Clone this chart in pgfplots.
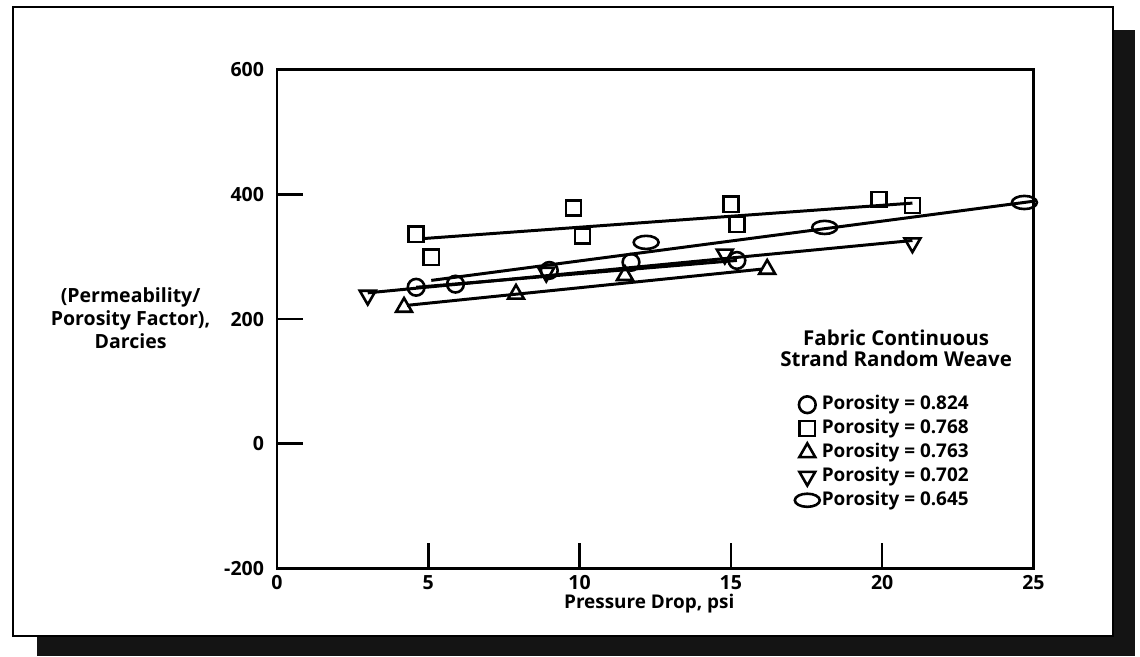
\documentclass[border=0pt]{standalone}
\usepackage{pgfplots}
\pgfplotsset{compat=1.18}
\usepackage{fontspec}
\setmainfont{Open Sans}
\begin{document}
\pgfdeclareplotmark{ellip}{\pgfpathellipse{\pgfpointorigin}{\pgfpoint{1.9\pgfplotmarksize}{0pt}}{\pgfpoint{0pt}{\pgfplotmarksize}}\pgfusepathqstroke}
\begin{tikzpicture}[font=\bfseries\fontsize{9.5}{10}\selectfont]
\useasboundingbox (0,0) rectangle (570pt,329.5pt);
\fill[white] (0,0) rectangle (570pt,329.5pt);
\fill[black!92] (16pt,0) rectangle (567.5pt,9.8pt);
\fill[black!92] (556.5pt,0) rectangle (567.5pt,314.5pt);
\draw[line width=0.8pt] (4pt,10pt) rectangle (556.5pt,326pt);
\begin{axis}[
  at={(136.5pt,44pt)}, anchor=south west,
  scale only axis, width=380pt, height=250.5pt,
  xmin=0, xmax=25, ymin=-200, ymax=600,
  xtick={0,5,...,25}, ytick={-200,0,...,600},
  tick align=inside, xtick pos=bottom, ytick pos=left,
  major tick length=13pt,
  axis line style={line width=1.3pt},
  tick style={line width=1.3pt, black},
  tick label style={font=\bfseries\fontsize{9.8}{10}\selectfont},
  yticklabel style={xshift=-3pt},
  /pgf/number format/assume math mode=true,
  clip mode=individual,
  legend style={at={(0.684,0.353)}, anchor=north west, draw=none, fill=none,
    font=\bfseries\fontsize{9.5}{10}\selectfont, row sep=0pt, inner sep=0pt,
    nodes={inner sep=1pt, text height=7.5pt, text depth=2.5pt}},
  legend cell align=left,
  legend image code/.code={\draw[#1] plot coordinates {(0pt,0pt)};},
]
% fitted lines
\addplot[black, line width=1.5pt, forget plot] coordinates {(4.8,329) (21.0,386)};
\addplot[black, line width=1.5pt, forget plot] coordinates {(4.6,251) (15.2,294)};
\addplot[black, line width=1.5pt, forget plot] coordinates {(3.0,242) (21.0,326)};
\addplot[black, line width=1.5pt, forget plot] coordinates {(4.3,222) (16.0,280)};
\addplot[black, line width=1.5pt, forget plot] coordinates {(5.1,262) (25.0,389)};
% data
\addplot[only marks, mark=o, mark size=4.2pt, line width=1.3pt, black] coordinates {
(4.6,251) (5.9,256) (9.0,278) (11.7,291) (15.2,294)};
\addlegendentry{Porosity = 0.824}
\addplot[only marks, mark=square, mark size=3.8pt, line width=1.3pt, black] coordinates {
(4.6,336) (5.1,299) (9.8,378) (10.1,333) (15.0,384) (15.2,352) (19.9,392) (21.0,382)};
\addlegendentry{Porosity = 0.768}
\addplot[only marks, mark=triangle, mark size=4.6pt, line width=1.3pt, black] coordinates {
(4.2,219) (7.9,240) (11.5,270) (16.2,280)};
\addlegendentry{Porosity = 0.763}
\addplot[only marks, mark=triangle, mark size=4.6pt, line width=1.3pt, black, mark options={rotate=180}] coordinates {
(3.0,238) (8.9,275) (14.8,304) (21.0,322)};
\addlegendentry{Porosity = 0.702}
\addplot[only marks, mark=ellip, mark size=3.3pt, line width=1.3pt, black] coordinates {
(12.2,323) (18.1,347) (24.7,387)};
\addlegendentry{Porosity = 0.645}
\end{axis}
\node[align=center, font=\bfseries\fontsize{9.8}{11.5}\selectfont] at (63pt,169.5pt) {(Permeability/\\Porosity Factor),\\Darcies};
\node at (323.5pt,26.5pt) {Pressure Drop, psi};
\node[align=center, font=\bfseries\fontsize{10.3}{10.3}\selectfont] at (447.5pt,154.5pt) {Fabric Continuous\\Strand Random Weave};
\end{tikzpicture}
\end{document}
